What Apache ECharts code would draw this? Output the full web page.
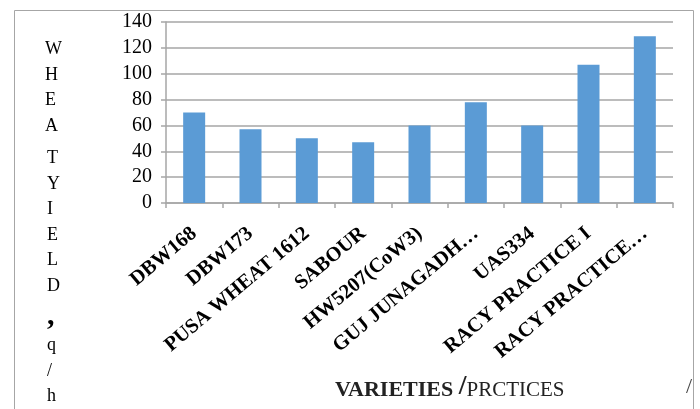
<!DOCTYPE html>
<html>
<head>
<meta charset="utf-8">
<script src="https://cdn.jsdelivr.net/npm/echarts@6/dist/echarts.min.js"></script>
<style>
  html, body { margin: 0; padding: 0; background: #fff; }
  #chart { width: 700px; height: 409px; }
</style>
</head>
<body>
<div id="chart"></div>
<script>
const varieties = ['DBW168', 'DBW173', 'PUSA WHEAT 1612', 'SABOUR', 'HW5207(CoW3)',
  'GUJ JUNAGADH…', 'UAS334', 'RACY PRACTICE I', 'RACY PRACTICE…'];
const yieldValues = [70, 57, 50, 47, 60, 78, 60, 107, 129];
const yTicks = [0, 20, 40, 60, 80, 100, 120, 140];

const serif = '"Liberation Serif", "DejaVu Serif", serif';
const chart = echarts.init(document.getElementById('chart'));

const option = {
  animation: false,
  backgroundColor: '#fff',
  grid: { left: 166, right: 27, top: 22, bottom: 206 },
  xAxis: {
    type: 'category',
    data: varieties,
    axisLine: { lineStyle: { color: '#a6a6a6', width: 1.5 } },
    axisTick: { show: true, length: 5, lineStyle: { color: '#a6a6a6', width: 1.5 } },
    axisLabel: {
      rotate: 40, interval: 0, margin: 28,
      fontFamily: serif, fontWeight: 'bold', fontSize: 20.5, color: '#000'
    }
  },
  yAxis: {
    type: 'value',
    min: yTicks[0],
    max: yTicks[yTicks.length - 1],
    interval: yTicks[1] - yTicks[0],
    axisLine: { show: true, lineStyle: { color: '#a6a6a6', width: 1.5 } },
    axisTick: { show: true, length: 5, lineStyle: { color: '#a6a6a6', width: 1.5 } },
    splitLine: { lineStyle: { color: '#a6a6a6', width: 1.5 } },
    axisLabel: { margin: 14, fontFamily: serif, fontSize: 20, color: '#000' }
  },
  series: [{
    type: 'bar',
    data: yieldValues,
    barWidth: 22,
    itemStyle: { color: '#5b9bd5' }
  }],
  graphic: [
    {
      type: 'rect', left: 12, top: 8, silent: true,
      shape: { width: 679, height: 400 },
      style: { fill: 'none', stroke: '#a6a6a6', lineWidth: 1 }
    },
    // x axis title
    {
      type: 'text', left: 335, top: 373,
      style: {
        text: '{b|VARIETIES }{s|/}{r|PRCTICES}',
        rich: {
          b: { fontFamily: serif, fontWeight: 'bold', fontSize: 22, fill: '#222', verticalAlign: 'bottom' },
          s: { fontFamily: serif, fontWeight: 'bold', fontSize: 28, fill: '#222', verticalAlign: 'bottom' },
          r: { fontFamily: serif, fontSize: 21, fill: '#222', verticalAlign: 'bottom' }
        }
      }
    },
    // y axis title, one letter per line
    {
      type: 'text', left: 45, top: 37,
      style: {
        text: 'W\nH\nE\nA', fontFamily: serif, fontSize: 18, lineHeight: 25.5,
        fill: '#000', align: 'center'
      }
    },
    {
      type: 'text', left: 47, top: 146,
      style: {
        text: 'T\nY\nI\nE\nL\nD\n{c|,}\nq\n/\nh',
        fontFamily: serif, fontSize: 18, lineHeight: 25.5, fill: '#000', align: 'center',
        rich: { c: { fontFamily: serif, fontWeight: 'bold', fontSize: 30, fill: '#000', lineHeight: 34 } }
      }
    },
    {
      type: 'text', left: 686, top: 376,
      style: { text: '/', fontFamily: serif, fontSize: 22, fill: '#444' }
    }
  ]
};

chart.setOption(option);
</script>
</body>
</html>
